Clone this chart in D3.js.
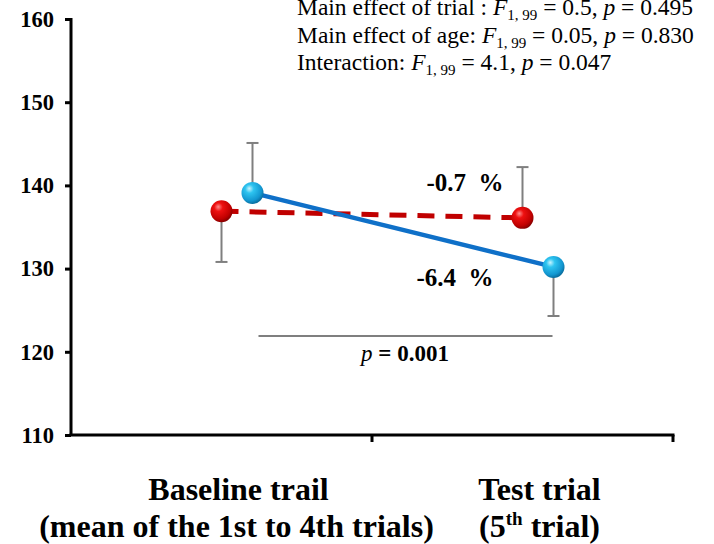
<!DOCTYPE html>
<html>
<head>
  <meta charset="utf-8">
  <script src="https://d3js.org/d3.v7.min.js"></script>
  <style>
    body { margin: 0; background: #fff; }
    svg { font-family: "Liberation Serif", "Times New Roman", serif; }
  </style>
</head>
<body>
  <svg id="chart" width="714" height="544"></svg>
  <script>
    // data
    var categories = ["Baseline", "Test"];
    var redMeans = [136.9, 136.1];
    var redErr = [-6.1, 6.1];      // one-sided bars (sign = direction)
    var blueMeans = [139.1, 130.2];
    var blueErr = [6.0, -5.9];
    var yTicks = [110, 120, 130, 140, 150, 160];
    var statLines = [
      ["Main effect of trial : ", "0.5", "0.495"],
      ["Main effect of age: ", "0.05", "0.830"],
      ["Interaction: ", "4.1", "0.047"]
    ];
    var pctLabels = [{ text: "-0.7\u00a0\u00a0%", v: 139.3, dx: 465 }, { text: "-6.4\u00a0\u00a0%", v: 127.9, dx: 455 }];
    var sigValue = 121.9;

    var svg = d3.select("#chart");
    var mLeft = 71, mRight = 673, mTop = 19, mBottom = 435;

    var x = d3.scaleBand().domain(categories).range([mLeft, mRight]);
    var y = d3.scaleLinear().domain([110, 160]).range([mBottom, mTop]);
    var cx = function (i) { return x(categories[i]) + x.bandwidth() / 2; };

    // gradients for the spheres
    var defs = svg.append("defs");
    function ball(id, stops) {
      var g = defs.append("radialGradient").attr("id", id)
        .attr("cx", "40%").attr("cy", "35%").attr("r", "65%").attr("fx", "35%").attr("fy", "30%");
      stops.forEach(function (s) { g.append("stop").attr("offset", s[0]).attr("stop-color", s[1]); });
    }
    ball("gRed", [["0%", "#ff8a8a"], ["30%", "#ee1010"], ["80%", "#c00000"], ["100%", "#8a0000"]]);
    ball("gBlue", [["0%", "#c8f4ff"], ["30%", "#2ec4f0"], ["80%", "#1296d0"], ["100%", "#0a6fa0"]]);

    // axes
    var yAxis = svg.append("g").attr("transform", "translate(" + mLeft + ",0)")
      .call(d3.axisLeft(y).tickValues(yTicks).tickSize(6).tickPadding(11));
    yAxis.select(".domain").attr("stroke", "#000").attr("stroke-width", 3)
      .attr("d", "M0," + (mTop - 1) + "V" + mBottom);
    yAxis.selectAll(".tick line").attr("stroke", "#000").attr("stroke-width", 3);
    yAxis.selectAll(".tick text").attr("font-size", 22.5).attr("font-weight", "bold")
      .attr("font-family", "Liberation Serif").attr("fill", "#000");

    var xAxis = svg.append("g").attr("transform", "translate(0," + mBottom + ")");
    xAxis.append("line").attr("x1", mLeft - 1.5).attr("x2", mRight + 1.5)
      .attr("stroke", "#000").attr("stroke-width", 3);
    xAxis.selectAll("line.tk").data([categories[0], null]).enter().append("line")
      .attr("class", "tk")
      .attr("x1", function (d) { return d ? x(d) + x.bandwidth() : mRight; })
      .attr("x2", function (d) { return d ? x(d) + x.bandwidth() : mRight; })
      .attr("y1", 0).attr("y2", 7).attr("stroke", "#000").attr("stroke-width", 3);

    // x labels
    var xl = svg.append("g").attr("font-weight", "bold").attr("font-size", 32)
      .attr("text-anchor", "middle").attr("fill", "#000");
    xl.append("text").attr("x", cx(0) + 17).attr("y", 500).text("Baseline trail");
    xl.append("text").attr("x", cx(0) + 15).attr("y", 537).text("(mean of the 1st to 4th trials)");
    xl.append("text").attr("x", cx(1) + 17).attr("y", 500).text("Test trial");
    var t5 = xl.append("text").attr("x", cx(1) + 17).attr("y", 537);
    t5.append("tspan").text("(5");
    t5.append("tspan").attr("font-size", 19).attr("dy", -12).text("th");
    t5.append("tspan").attr("dy", 12).text(" trial)");

    // cut-off axis title at the very top
    svg.append("text").attr("x", 222).attr("y", -6).attr("text-anchor", "middle")
      .attr("font-size", 22).attr("fill", "#555").text("Time (ms)");

    // stats text
    var st = svg.append("g").attr("font-size", 23.5).attr("fill", "#000");
    statLines.forEach(function (l, i) {
      var t = st.append("text").attr("x", 297).attr("y", 15 + i * 27.5);
      t.append("tspan").text(l[0]);
      t.append("tspan").attr("font-style", "italic").text("F");
      t.append("tspan").attr("font-size", 15).attr("dy", 5).text("1, 99");
      t.append("tspan").attr("dy", -5).text(" = " + l[1] + ", ");
      t.append("tspan").attr("font-style", "italic").text("p");
      t.append("tspan").text(" = " + l[2]);
    });

    // significance bracket
    var sy = y(sigValue);
    svg.append("line").attr("x1", cx(0) + 37).attr("x2", cx(1) + 30)
      .attr("y1", sy).attr("y2", sy).attr("stroke", "#7f7f7f").attr("stroke-width", 2);
    var pt = svg.append("text").attr("x", (cx(0) + cx(1)) / 2 + 33).attr("y", sy + 25)
      .attr("text-anchor", "middle").attr("font-size", 23).attr("font-weight", "bold");
    pt.append("tspan").attr("font-style", "italic").attr("font-weight", "normal").text("p");
    pt.append("tspan").text(" = 0.001");

    var offsets = { red: 0, blue: 31 };
    var series = [
      { key: "red", means: redMeans, err: redErr, color: "#c00000", dash: "17,11", width: 5, fill: "url(#gRed)" },
      { key: "blue", means: blueMeans, err: blueErr, color: "#0f70c8", dash: null, width: 4.5, fill: "url(#gBlue)" }
    ];

    // error bars
    series.forEach(function (s) {
      var g = svg.append("g").attr("stroke", "#7f7f7f").attr("stroke-width", 2);
      s.means.forEach(function (m, i) {
        var px = cx(i) + offsets[s.key];
        var ye = y(m + s.err[i]);
        g.append("line").attr("x1", px).attr("x2", px).attr("y1", y(m)).attr("y2", ye);
        g.append("line").attr("x1", px - 6).attr("x2", px + 6).attr("y1", ye).attr("y2", ye);
      });
    });

    // lines
    var line = d3.line();
    series.forEach(function (s) {
      svg.append("path")
        .attr("d", line(s.means.map(function (m, i) { return [cx(i) + offsets[s.key], y(m)]; })))
        .attr("fill", "none").attr("stroke", s.color).attr("stroke-width", s.width)
        .attr("stroke-dasharray", s.dash);
    });

    // markers
    series.forEach(function (s) {
      svg.append("g").selectAll("circle").data(s.means).enter().append("circle")
        .attr("cx", function (d, i) { return cx(i) + offsets[s.key]; })
        .attr("cy", function (d) { return y(d); })
        .attr("r", 11).attr("fill", s.fill);
    });

    // change labels
    svg.append("g").selectAll("text").data(pctLabels).enter().append("text")
      .attr("x", function (d) { return d.dx; }).attr("y", function (d) { return y(d.v); })
      .attr("text-anchor", "middle").attr("font-size", 25).attr("font-weight", "bold")
      .text(function (d) { return d.text; });
  </script>
</body>
</html>
